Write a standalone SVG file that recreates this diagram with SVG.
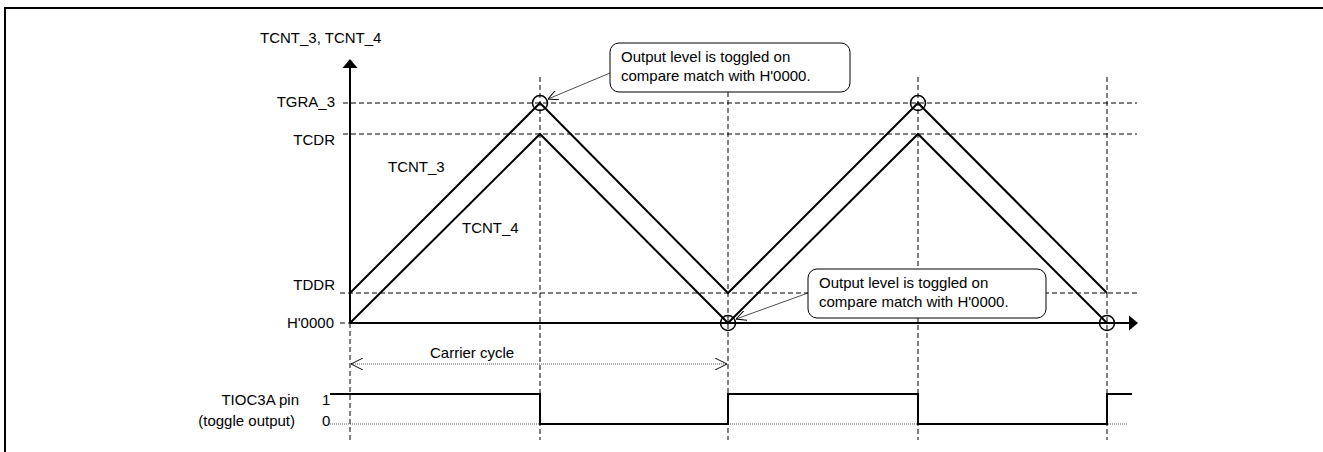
<svg xmlns="http://www.w3.org/2000/svg" width="1323" height="452" viewBox="0 0 1323 452">
<style>
text{font-family:"Liberation Sans",Arial,sans-serif;font-size:15px;fill:#000}
.dash{stroke:#000;stroke-width:1;stroke-dasharray:5 3;fill:none}
.wave{stroke:#000;stroke-width:2;fill:none}
.dot{stroke:#555;stroke-width:1;stroke-dasharray:1 1;fill:none}
.circ{stroke:#000;stroke-width:1.5;fill:none}
.box{stroke:#000;stroke-width:1;fill:#fff}
.lead{stroke:#000;stroke-width:0.7;fill:none}
</style>
<defs>
<marker id="open" viewBox="0 0 10 10" refX="10" refY="5" markerWidth="10" markerHeight="10" markerUnits="userSpaceOnUse" orient="auto">
<path d="M0,0 L10,5 L0,10" fill="none" stroke="#000" stroke-width="1"/>
</marker>
<marker id="openS" viewBox="0 0 10 10" refX="10" refY="5" markerWidth="12" markerHeight="12" markerUnits="userSpaceOnUse" orient="auto-start-reverse">
<path d="M0,0 L10,5 L0,10" fill="none" stroke="#000" stroke-width="0.8"/>
</marker>
</defs>
<path d="M5,452 V8 H1323" fill="none" stroke="#000" stroke-width="2"/>
<g id="gridlines">
<line class="dash" x1="343" y1="103" x2="1137" y2="103"/>
<line class="dash" x1="343" y1="134" x2="1137" y2="134"/>
<line class="dash" x1="340" y1="293" x2="1137" y2="293"/>
<line class="dash" x1="340" y1="323" x2="350" y2="323"/>
<line class="dash" x1="350" y1="323" x2="350" y2="440"/>
<line class="dash" x1="540" y1="77" x2="540" y2="440"/>
<line class="dash" x1="728" y1="92" x2="728" y2="440"/>
<line class="dash" x1="918" y1="77" x2="918" y2="440"/>
<line class="dash" x1="1107" y1="77" x2="1107" y2="440"/>
</g>
<g id="axes">
<line x1="350" y1="68" x2="350" y2="323" stroke="#000" stroke-width="2"/>
<polygon points="350,59 342.5,68 357.5,68" fill="#000"/>
<line x1="350" y1="323" x2="1129" y2="323" stroke="#000" stroke-width="2"/>
<polygon points="1138,323 1129,315.5 1129,330.5" fill="#000"/>
<text x="260" y="43">TCNT_3, TCNT_4</text>
<text x="335" y="107" text-anchor="end">TGRA_3</text>
<text x="335" y="145" text-anchor="end">TCDR</text>
<text x="335" y="290" text-anchor="end">TDDR</text>
<text x="334" y="328" text-anchor="end">H'0000</text>
</g>
<g id="tcnt3">
<polyline class="wave" points="350,293 540,103 728,293 918,103 1107,293"/>
<text x="388" y="172">TCNT_3</text>
</g>
<g id="tcnt4">
<polyline class="wave" points="350,323 540,134 728,323 918,134 1107,323"/>
<text x="462" y="233">TCNT_4</text>
</g>
<g id="markers">
<circle class="circ" cx="540" cy="103" r="7.5"/>
<circle class="circ" cx="918" cy="103" r="7.5"/>
<circle class="circ" cx="728" cy="323" r="7.5"/>
<circle class="circ" cx="1107" cy="323" r="7.5"/>
</g>
<g id="callout1">
<rect class="box" x="610" y="43" width="240" height="49" rx="9"/>
<text x="621" y="62">Output level is toggled on</text>
<text x="621" y="81">compare match with H'0000.</text>
</g>
<g id="callout2">
<rect class="box" x="808" y="269" width="238" height="49" rx="9"/>
<text x="819" y="288">Output level is toggled on</text>
<text x="819" y="307">compare match with H'0000.</text>
</g>
<g id="connectors">
<line class="lead" x1="610" y1="73" x2="548" y2="99" marker-end="url(#open)"/>
<line class="lead" x1="808" y1="293" x2="736" y2="319" marker-end="url(#open)"/>
<line class="dot" x1="351" y1="364" x2="727" y2="364" marker-start="url(#openS)" marker-end="url(#openS)"/>
</g>
<g id="carrier">
<text x="430" y="358">Carrier cycle</text>
</g>
<g id="tioc">
<line class="dot" x1="330" y1="424" x2="1128" y2="424"/>
<polyline class="wave" points="330,394 540,394 540,424 728,424 728,394 918,394 918,424 1107,424 1107,394 1132,394"/>
<text x="299" y="405" text-anchor="end">TIOC3A pin</text>
<text x="295" y="426" text-anchor="end">(toggle output)</text>
<text x="322" y="405">1</text>
<text x="322" y="426">0</text>
</g>
</svg>
